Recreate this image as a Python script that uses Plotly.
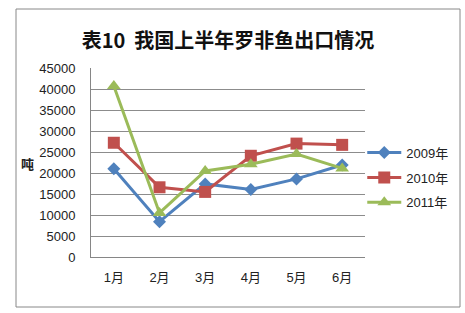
import plotly.graph_objects as go

months = ["1月", "2月", "3月", "4月", "5月", "6月"]
s2009 = [21000, 8400, 17400, 16100, 18600, 21900]
s2010 = [27200, 16600, 15500, 24100, 27000, 26700]
s2011 = [40700, 10500, 20500, 22100, 24500, 21100]
series_names = ["2009年", "2010年", "2011年"]
y_ticks = list(range(0, 45001, 5000))
y_tick_labels = [str(v) for v in y_ticks]

colors = ["#4F81BD", "#C0504D", "#9BBB59"]
symbols = ["diamond", "square", "triangle-up"]
msizes = [10, 12, 12]

fig = go.Figure()
for i, (name, vals) in enumerate(zip(series_names, [s2009, s2010, s2011])):
    fig.add_trace(go.Scatter(
        x=months, y=vals, name=name, mode="lines+markers",
        line=dict(color=colors[i], width=3),
        marker=dict(symbol=symbols[i], size=msizes[i], color=colors[i]),
        legendgroup=name,
    ))

font_family = "Liberation Sans, Noto Sans CJK SC, sans-serif"
fig.update_layout(
    width=465, height=313,
    margin=dict(l=91, r=100, t=68, b=56),
    paper_bgcolor="white", plot_bgcolor="white",
    font=dict(family=font_family, size=13, color="#222"),
    title=dict(text="<b>表10  我国上半年罗非鱼出口情况</b>", x=228/465, xanchor="center",
               y=1 - 41/313, yanchor="middle",
               font=dict(family="Noto Sans CJK SC, sans-serif", size=20, color="#111")),
    showlegend=True,
    legend=dict(x=0.99, xanchor="left", y=0.42, yanchor="middle",
                font=dict(size=13), tracegroupgap=5, itemwidth=34,
                bgcolor="rgba(0,0,0,0)"),
    xaxis=dict(type="category", showline=True, linecolor="#868686", linewidth=1,
               showgrid=False, ticks="", ticklabelstandoff=8, range=[-0.5, 5.5],
               fixedrange=True),
    yaxis=dict(range=[0, 45000], tickvals=y_ticks, ticktext=y_tick_labels,
               showgrid=True, gridcolor="#8c8c8c",
               gridwidth=1, showline=True, linecolor="#868686", linewidth=1,
               ticks="", ticklabelstandoff=12, zeroline=False),
    annotations=[dict(text="<b>吨</b>", xref="paper", yref="paper",
                      x=(27 - 91) / 274, y=(257 - 163) / 189,
                      xanchor="center", yanchor="middle", showarrow=False,
                      font=dict(family="Noto Sans CJK SC, sans-serif", size=13, color="#222"))],
    shapes=[dict(type="rect", xref="paper", yref="paper",
                 x0=(16 - 91) / 274, x1=(460 - 91) / 274,
                 y0=(257 - 307) / 189, y1=(257 - 9) / 189,
                 line=dict(color="#888888", width=1), fillcolor="rgba(0,0,0,0)",
                 layer="below")],
)

fig.write_html("out.html")
